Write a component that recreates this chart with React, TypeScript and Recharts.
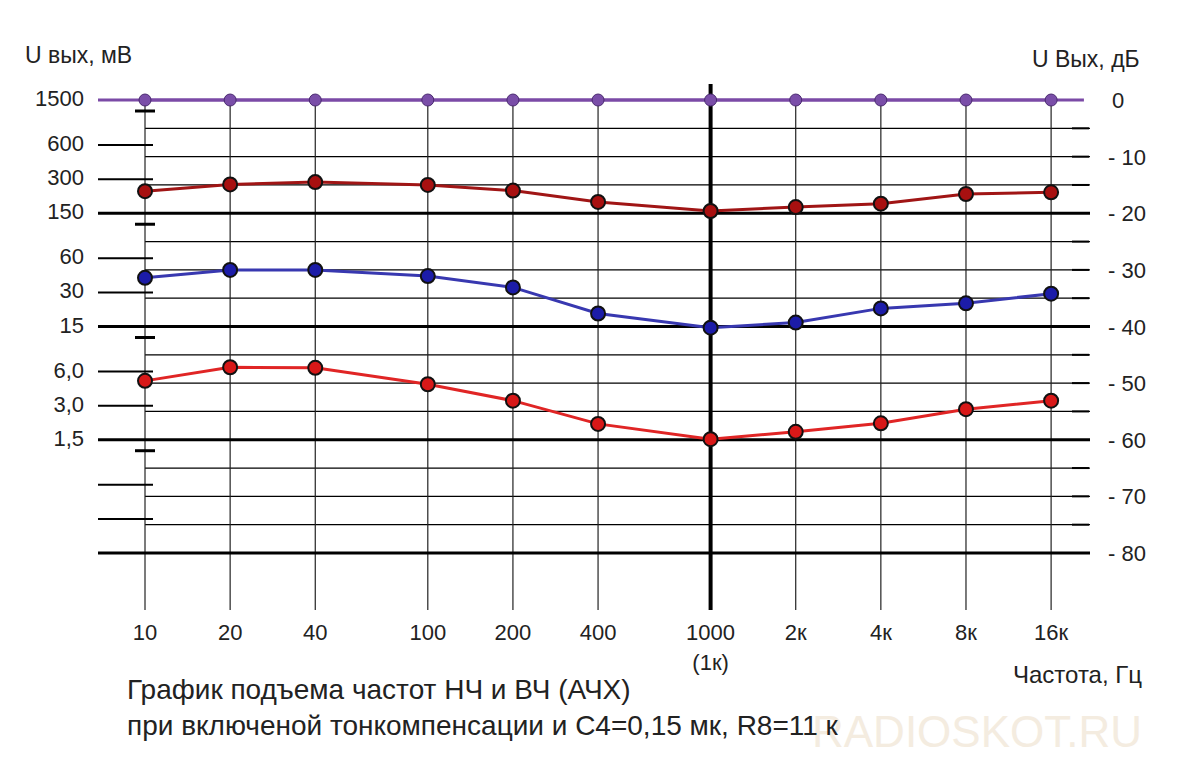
import { ComposedChart, Line, XAxis, YAxis, ReferenceLine } from "recharts";

// frequencies (Hz) and their axis labels
const FREQS = [10, 20, 40, 100, 200, 400, 1000, 2000, 4000, 8000, 16000];
const FREQ_LABELS = ["10", "20", "40", "100", "200", "400", "1000", "2к", "4к", "8к", "16к"];
const FREQ_SUBLABELS = ["", "", "", "", "", "", "(1к)", "", "", "", ""];

// output level, dB
const REF_DB = [0, 0, 0, 0, 0, 0, 0, 0, 0, 0, 0];
const UPPER_DB = [-16.1, -14.9, -14.5, -15.0, -16.0, -18.0, -19.6, -18.9, -18.3, -16.6, -16.3];
const MIDDLE_DB = [-31.4, -30.0, -30.0, -31.1, -33.1, -37.7, -40.2, -39.3, -36.8, -35.9, -34.2];
const LOWER_DB = [-49.6, -47.2, -47.3, -50.2, -53.1, -57.2, -59.9, -58.6, -57.1, -54.6, -53.1];

// left scale, mV (0 dB = 1500 mV)
const MV_VALUES = [1500, 600, 300, 150, 60, 30, 15, 6, 3, 1.5];
const MV_LABELS = ["1500", "600", "300", "150", "60", "30", "15", "6,0", "3,0", "1,5"];
const MV_SMALL = [1200, 120, 12, 1.2];
const MV_UNLABELED = [0.6, 0.3];
const MV_BOLD = [1500, 150, 15, 1.5];

// right scale, dB
const DB_TICKS = [0, -5, -10, -15, -20, -25, -30, -35, -40, -45, -50, -55, -60, -65, -70, -75, -80];
const DB_MAJOR = [-20, -40, -60, -80];
const DB_MINOR = [-5, -10, -15, -25, -30, -35, -45, -50, -55, -65, -70, -75];

const X_MIN = 6.82;
const X_MAX = 21960;
const DB_MIN = -90.07;
const DB_MAX = 2.83;

const mvToDb = (mv: number) => 20 * Math.log10(mv / 1500);

const data = FREQS.map((f, i) => ({
  f,
  ref: REF_DB[i],
  upper: UPPER_DB[i],
  middle: MIDDLE_DB[i],
  lower: LOWER_DB[i],
}));

const leftTicks = [...MV_VALUES, ...MV_SMALL, ...MV_UNLABELED].map(mvToDb);

const findMv = (db: number) => {
  const all = [...MV_VALUES, ...MV_SMALL, ...MV_UNLABELED];
  return all.find((mv) => Math.abs(mvToDb(mv) - db) < 0.01);
};

const FONT = '"Liberation Sans", Arial, sans-serif';

function LeftTick(props: any) {
  const { x, y, payload } = props;
  const mv = findMv(payload.value);
  if (mv == null) return null;
  const idx = MV_VALUES.indexOf(mv);
  if (MV_SMALL.includes(mv)) {
    return <line x1={x + 37} x2={x + 57} y1={y} y2={y} stroke="#000" strokeWidth={3} />;
  }
  return (
    <g>
      {!MV_BOLD.includes(mv) && <line x1={x} x2={x + 55} y1={y} y2={y} stroke="#000" strokeWidth={2} />}
      {idx >= 0 && (
        <text x={x - 14} y={y + 6} textAnchor="end" fontSize={22} fill="#222" fontFamily={FONT}>
          {MV_LABELS[idx]}
        </text>
      )}
    </g>
  );
}

function RightTick(props: any) {
  const { x, y, payload } = props;
  const v = payload.value;
  const dash = v % 20 !== 0;
  const label = v % 10 === 0;
  return (
    <g>
      {dash && <line x1={x - 18} x2={x - 1} y1={y} y2={y} stroke="#000" strokeWidth={2} />}
      {label && (
        <text x={v === 0 ? x + 22 : x + 18} y={y + 8} textAnchor="start" fontSize={22} fill="#222" fontFamily={FONT}>
          {v === 0 ? "0" : `- ${-v}`}
        </text>
      )}
    </g>
  );
}

function FreqTick(props: any) {
  const { x, y, payload } = props;
  const i = FREQS.indexOf(payload.value);
  return (
    <g>
      <text x={x} y={y + 30} textAnchor="middle" fontSize={22} fill="#222" fontFamily={FONT}>
        {FREQ_LABELS[i]}
      </text>
      {FREQ_SUBLABELS[i] && (
        <text x={x} y={y + 60} textAnchor="middle" fontSize={22} fill="#222" fontFamily={FONT}>
          {FREQ_SUBLABELS[i]}
        </text>
      )}
    </g>
  );
}

const textStyle = { position: "absolute" as const, fontFamily: FONT, color: "#222", whiteSpace: "nowrap" as const };

export default function App() {
  return (
    <div style={{ position: "absolute", left: 0, top: 0, width: 1178, height: 764, background: "#fff", overflow: "hidden" }}>
      <ComposedChart width={1178} height={764} data={data} margin={{ top: 84, right: 0, bottom: 0, left: 0 }}>
        <XAxis
          dataKey="f"
          type="number"
          scale="log"
          domain={[X_MIN, X_MAX]}
          allowDataOverflow
          ticks={FREQS}
          interval={0}
          height={154}
          tickSize={0}
          tickMargin={0}
          axisLine={false}
          tickLine={false}
          tick={<FreqTick />}
        />
        <YAxis
          yAxisId="left"
          orientation="left"
          type="number"
          domain={[DB_MIN, DB_MAX]}
          allowDataOverflow
          ticks={leftTicks}
          interval={0}
          width={98}
          tickSize={0}
          tickMargin={0}
          axisLine={false}
          tickLine={false}
          tick={<LeftTick />}
        />
        <YAxis
          yAxisId="right"
          orientation="right"
          type="number"
          domain={[DB_MIN, DB_MAX]}
          allowDataOverflow
          ticks={DB_TICKS}
          interval={0}
          width={88}
          tickSize={0}
          tickMargin={0}
          axisLine={false}
          tickLine={false}
          tick={<RightTick />}
        />

        {DB_MINOR.map((db) => (
          <ReferenceLine
            key={"minor" + db}
            yAxisId="left"
            segment={[{ x: FREQS[0], y: db }, { x: X_MAX, y: db }]}
            stroke="#000"
            strokeWidth={1.2}
          />
        ))}
        {FREQS.filter((f) => f !== 1000).map((f) => (
          <ReferenceLine
            key={"v" + f}
            yAxisId="left"
            segment={[{ x: f, y: 0 }, { x: f, y: DB_MIN }]}
            stroke="#222"
            strokeWidth={1.2}
          />
        ))}
        {DB_MAJOR.map((db) => (
          <ReferenceLine key={"major" + db} yAxisId="left" y={db} stroke="#000" strokeWidth={3} />
        ))}
        <ReferenceLine yAxisId="left" x={1000} stroke="#000" strokeWidth={4} />
        <ReferenceLine
          yAxisId="left"
          segment={[{ x: X_MIN, y: 0 }, { x: 20900, y: 0 }]}
          stroke="#7b4aa6"
          strokeWidth={3}
        />

        <Line
          yAxisId="left"
          type="linear"
          dataKey="ref"
          stroke="#7b4aa6"
          strokeWidth={3}
          dot={{ r: 6, fill: "#7a4ea8", stroke: "#4a2a70", strokeWidth: 1 }}
          isAnimationActive={false}
        />
        <Line
          yAxisId="left"
          type="linear"
          dataKey="upper"
          stroke="#a01515"
          strokeWidth={3}
          dot={{ r: 7, fill: "#a81010", stroke: "#111", strokeWidth: 2 }}
          isAnimationActive={false}
        />
        <Line
          yAxisId="left"
          type="linear"
          dataKey="middle"
          stroke="#3838b0"
          strokeWidth={3}
          dot={{ r: 7, fill: "#1c1ca8", stroke: "#111", strokeWidth: 2 }}
          isAnimationActive={false}
        />
        <Line
          yAxisId="left"
          type="linear"
          dataKey="lower"
          stroke="#e02525"
          strokeWidth={3}
          dot={{ r: 7, fill: "#d81818", stroke: "#111", strokeWidth: 2 }}
          isAnimationActive={false}
        />
      </ComposedChart>

      <div style={{ ...textStyle, left: 25, top: 42, fontSize: 23 }}>U вых, мВ</div>
      <div style={{ ...textStyle, left: 1032, top: 46, fontSize: 23 }}>U Вых, дБ</div>
      <div style={{ ...textStyle, left: 1013, top: 661, fontSize: 24 }}>Частота, Гц</div>
      <div style={{ ...textStyle, left: 812, top: 707, fontSize: 44, color: "#f4ece0" }}>RADIOSKOT.RU</div>
      <div style={{ ...textStyle, left: 127, top: 674, fontSize: 28 }}>График подъема частот НЧ и ВЧ (АЧХ)</div>
      <div style={{ ...textStyle, left: 127, top: 710, fontSize: 28 }}>
        при включеной тонкомпенсации и С4=0,15 мк, R8=11 к
      </div>
    </div>
  );
}
